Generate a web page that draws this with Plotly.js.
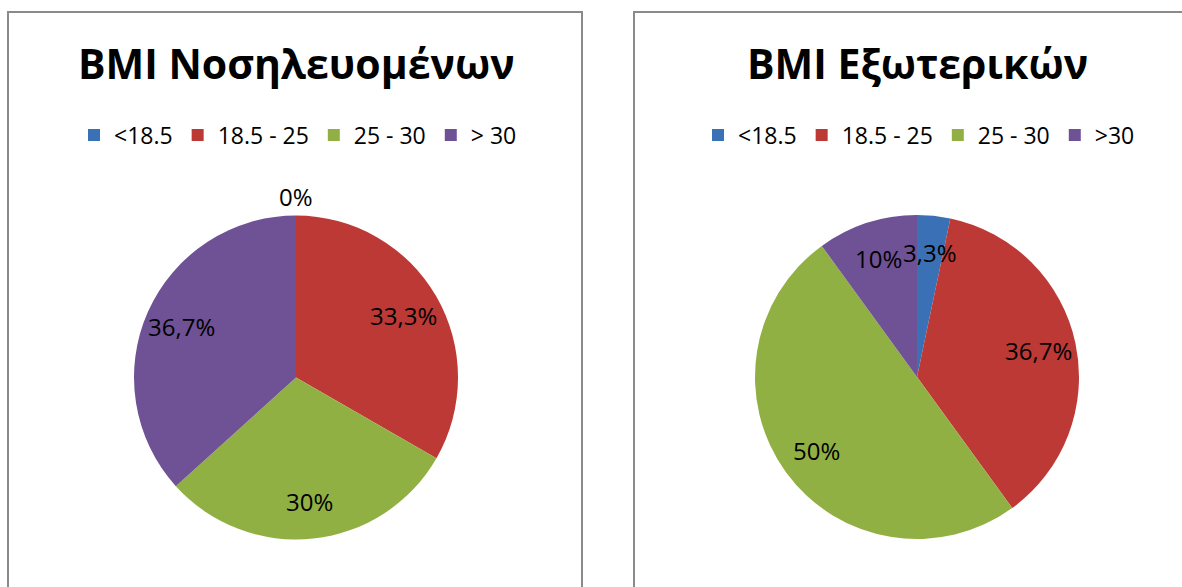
<!DOCTYPE html>
<html><head><meta charset="utf-8">
<script src="https://cdn.plot.ly/plotly-3.0.1.min.js"></script>
<style>html,body{margin:0;padding:0;background:#fff}#chart{width:1182px;height:587px}</style>
</head><body><div id="chart"></div>
<script>
const categoriesInpatients = ['<18.5', '18.5 - 25', '25 - 30', '> 30'];
const valuesInpatients = [0, 33.3, 30, 36.7];
const categoriesOutpatients = ['<18.5', '18.5 - 25', '25 - 30', '>30'];
const valuesOutpatients = [3.3, 36.7, 50, 10];
const titles = ['BMI Νοσηλευομένων', 'BMI Εξωτερικών'];
const sliceColors = ['#3A71B6', '#BC3936', '#91B044', '#6F5195'];

const W = 1182, H = 587;
const px = v => v / W, py = v => 1 - v / H;
const fmt = v => String(v).replace('.', ',') + '%';
const FONT = 'Open Sans, Noto Sans, sans-serif';
const R = 162;

function pie(labels, values, cx, cy, legendId) {
  return {
    type: 'pie', labels: labels, values: values, sort: false,
    direction: 'clockwise', rotation: 0,
    marker: {colors: sliceColors, line: {width: 0}},
    textinfo: 'none',
    domain: {x: [px(cx - R), px(cx + R)], y: [py(cy + R), py(cy - R)]},
    legend: legendId, hoverinfo: 'label+percent'
  };
}

// percentage labels placed at the middle angle of each slice (computed from the values)
function sliceLabels(values, cx, cy) {
  const total = values.reduce((a, b) => a + b, 0);
  let cum = 0;
  return values.map(v => {
    const mid = 2 * Math.PI * (cum + v / 2) / total;
    cum += v;
    const f = v === 0 ? 1.12 : 0.77;
    return {
      text: fmt(v), xref: 'paper', yref: 'paper', showarrow: false,
      x: px(cx + f * R * Math.sin(mid)), y: py(cy - f * R * Math.cos(mid)),
      xanchor: 'center', yanchor: 'middle',
      font: {family: FONT, size: 24, color: '#000'}
    };
  });
}

// right-hand pie gets its own legend; an invisible zero-width suffix keeps its entries separate from the left legend
const outLabels = categoriesOutpatients.map(l => l + '\u200B');

const data = [
  pie(categoriesInpatients, valuesInpatients, 296, 377.5, 'legend'),
  pie(outLabels, valuesOutpatients, 917, 377, 'legend2')
];

const legendBase = {orientation: 'h', xanchor: 'center', yanchor: 'middle', font: {family: FONT, size: 23, color: '#000'}, bgcolor: 'rgba(0,0,0,0)'};

const layout = {
  width: W, height: H,
  margin: {l: 0, r: 0, t: 0, b: 0},
  paper_bgcolor: '#fff',
  showlegend: true,
  legend: Object.assign({x: px(298), y: py(135)}, legendBase),
  legend2: Object.assign({x: px(919), y: py(135)}, legendBase),
  shapes: [
    {type: 'rect', xref: 'paper', yref: 'paper', x0: px(8), x1: px(582), y0: -0.2, y1: py(12), line: {color: '#8a8a8a', width: 2}},
    {type: 'rect', xref: 'paper', yref: 'paper', x0: px(634), x1: 1.2, y0: -0.2, y1: py(12), line: {color: '#8a8a8a', width: 2}}
  ],
  annotations: [
    {text: '<b>' + titles[0] + '</b>', xref: 'paper', yref: 'paper', x: px(296), y: py(63), showarrow: false, xanchor: 'center', yanchor: 'middle', font: {family: FONT, size: 41, color: '#000'}},
    {text: '<b>' + titles[1] + '</b>', xref: 'paper', yref: 'paper', x: px(917), y: py(63), showarrow: false, xanchor: 'center', yanchor: 'middle', font: {family: FONT, size: 41, color: '#000'}}
  ].concat(sliceLabels(valuesInpatients, 296, 377.5), sliceLabels(valuesOutpatients, 917, 377))
};

Plotly.newPlot('chart', data, layout, {displayModeBar: false, staticPlot: true});
</script>
</body></html>
